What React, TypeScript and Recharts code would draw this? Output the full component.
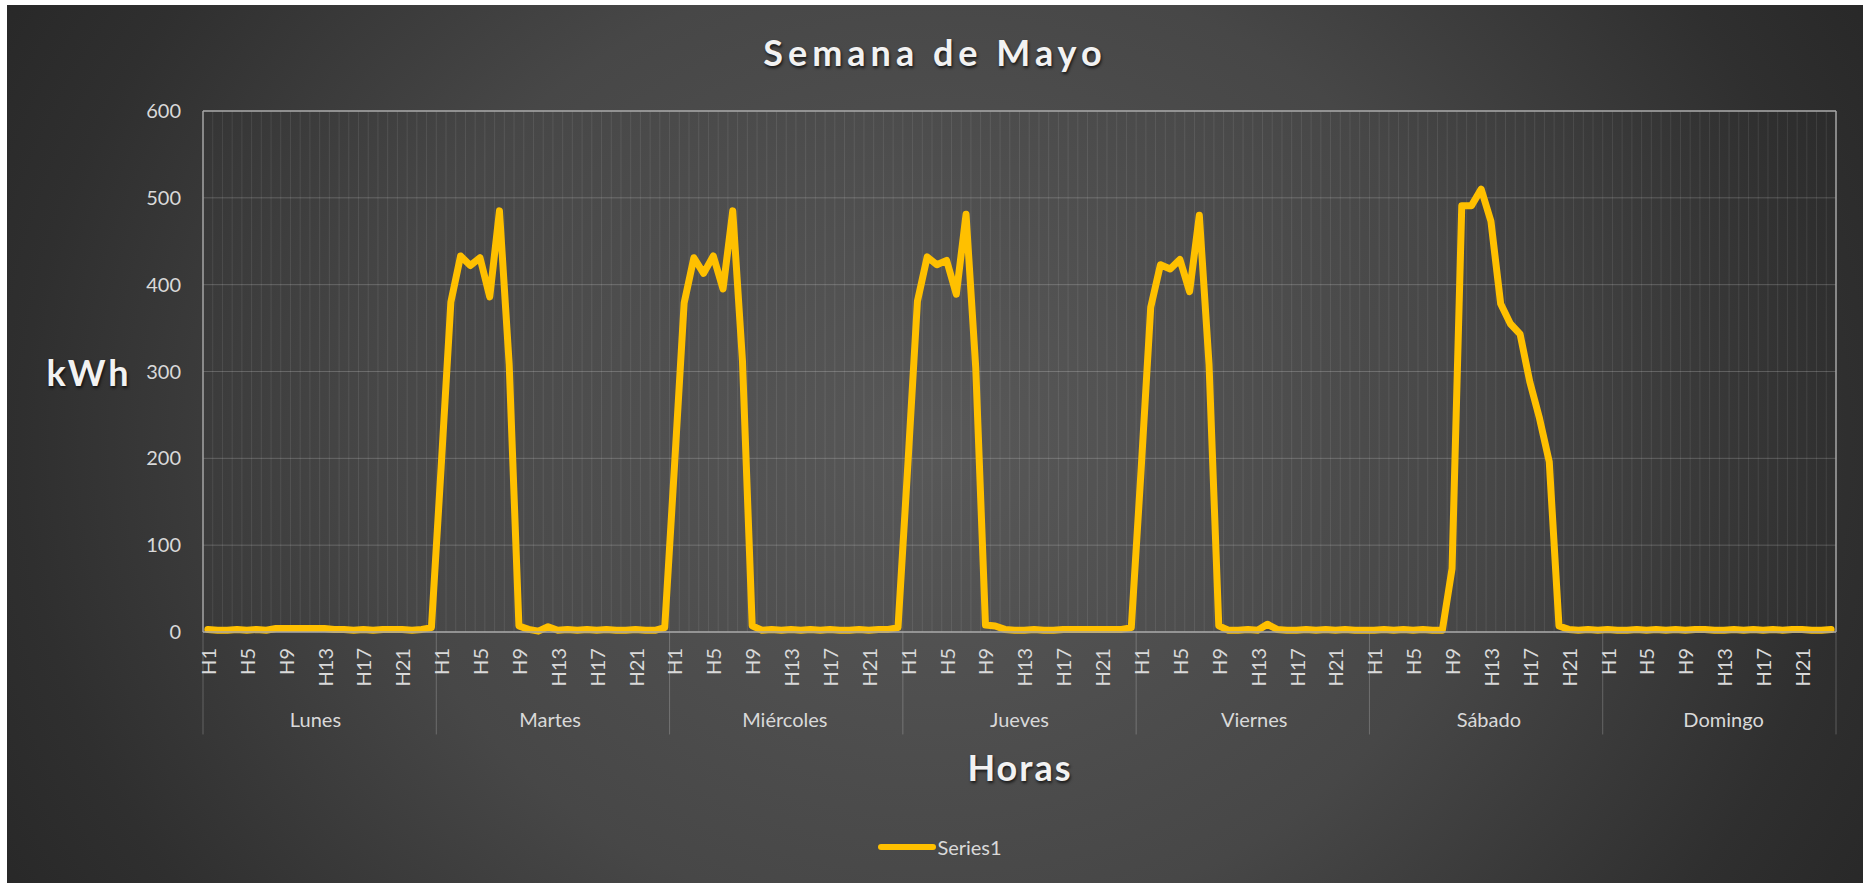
import React from 'react';
import { LineChart, Line, XAxis, YAxis, CartesianGrid, ReferenceLine, Legend } from 'recharts';

const days = ['Lunes', 'Martes', 'Miércoles', 'Jueves', 'Viernes', 'Sábado', 'Domingo'];
const hours = Array.from({ length: 24 }, (_, i) => 'H' + (i + 1));
const hourTickLabels = ['H1', 'H5', 'H9', 'H13', 'H17', 'H21'];
const yTicks = [0, 100, 200, 300, 400, 500, 600];

const lunes = [3, 2, 2, 3, 2, 3, 2, 4, 4, 4, 4, 4, 4, 3, 3, 2, 3, 2, 3, 3, 3, 2, 3, 5];
const martes = [190, 380, 433, 422, 431, 386, 485, 308, 7, 3, 1, 6, 2, 3, 2, 3, 2, 3, 2, 2, 3, 2, 2, 5];
const miercoles = [190, 379, 431, 413, 433, 395, 485, 312, 7, 2, 3, 2, 3, 2, 3, 2, 3, 2, 2, 3, 2, 3, 3, 5];
const jueves = [190, 381, 432, 423, 428, 389, 481, 304, 8, 7, 3, 2, 2, 3, 2, 2, 3, 3, 3, 3, 3, 3, 3, 5];
const viernes = [185, 374, 423, 418, 429, 392, 480, 308, 7, 2, 2, 3, 2, 9, 3, 2, 2, 3, 2, 3, 2, 3, 2, 2];
const sabado = [2, 3, 2, 3, 2, 3, 2, 2, 73, 491, 491, 510, 473, 378, 355, 343, 288, 246, 196, 7, 3, 2, 3, 2];
const domingo = [3, 2, 2, 3, 2, 3, 2, 3, 2, 3, 3, 2, 2, 3, 2, 3, 2, 3, 2, 3, 3, 2, 2, 3];

const series = [lunes, martes, miercoles, jueves, viernes, sabado, domingo];
const data = series.flatMap((vals, d) =>
  vals.map((v, h) => ({ idx: d * 24 + h, day: days[d], hour: hours[h], value: v }))
);
const N = data.length;
const hourTickPos = days.flatMap((_, d) => hourTickLabels.map((l) => d * 24 + hours.indexOf(l)));
const dayCenters = days.map((_, d) => d * 24 + 11.5);
const dayBounds = Array.from({ length: days.length + 1 }, (_, d) => d * 24 - 0.5);
const minorBounds = Array.from({ length: N - 1 }, (_, i) => i + 0.5);

const FONT = 'Lato, "Open Sans", sans-serif';
const TXT = '#d9d9d9';
const BORDER = '#a6a6a6';

const HourTick = (props: any) => {
  const { x, y, payload } = props;
  return (
    <text
      x={x}
      y={y}
      transform={`rotate(-90 ${x} ${y})`}
      textAnchor="end"
      dominantBaseline="central"
      fill={TXT}
      fontSize={20}
      fontFamily={FONT}
    >
      {hours[payload.value % 24]}
    </text>
  );
};

const LegendContent = (props: any) => {
  const items = props.payload || [];
  return (
    <div style={{ display: 'flex', justifyContent: 'center', alignItems: 'center', height: 30, paddingLeft: 10 }}>
      {items.map((it: any) => (
        <div key={it.value} style={{ display: 'flex', alignItems: 'center' }}>
          <span style={{ display: 'inline-block', width: 58, height: 6, borderRadius: 3, background: it.color }} />
          <span style={{ color: TXT, fontFamily: FONT, fontSize: 20, marginLeft: 1 }}>{it.value}</span>
        </div>
      ))}
    </div>
  );
};

const titleShadow = '1px 2px 3px rgba(0,0,0,0.7)';

export default function App() {
  return (
    <div
      style={{
        position: 'absolute',
        left: 7,
        top: 5,
        width: 1856,
        height: 878,
        background:
          'radial-gradient(ellipse 60% 110% at 50% 50%, #585858 0%, #474747 50%, #2f2f2f 82%, #262626 100%)',
        overflow: 'hidden',
      }}
    >
      <LineChart width={1856} height={878} data={data} margin={{ top: 106, right: 27, left: 0, bottom: 21 }}>
        <CartesianGrid xAxisId="a" vertical={false} stroke="rgba(255,255,255,0.2)" />
        {minorBounds.map((b) => (
          <ReferenceLine key={'m' + b} xAxisId="a" x={b} stroke="rgba(255,255,255,0.09)" strokeWidth={1} />
        ))}
        <ReferenceLine xAxisId="a" y={600} stroke={BORDER} strokeWidth={1.5} />
        <ReferenceLine xAxisId="a" x={N - 0.5} stroke={BORDER} strokeWidth={1.5} />
        {dayBounds.map((b) => (
          <ReferenceLine
            key={'d' + b}
            xAxisId="a"
            ifOverflow="visible"
            segment={[
              { x: b, y: 0 },
              { x: b, y: -118 },
            ]}
            stroke="rgba(255,255,255,0.22)"
            strokeWidth={1}
          />
        ))}
        <XAxis
          xAxisId="b"
          type="number"
          domain={[-0.5, N - 0.5]}
          allowDataOverflow
          ticks={dayCenters}
          interval={0}
          tickFormatter={(v: number) => days[Math.round((v - 11.5) / 24)]}
          tickSize={0}
          tickMargin={9}
          tickLine={false}
          axisLine={false}
          height={128}
          tick={{ fill: TXT, fontSize: 20, fontFamily: FONT }}
        />
        <XAxis
          xAxisId="a"
          dataKey="idx"
          type="number"
          domain={[-0.5, N - 0.5]}
          allowDataOverflow
          ticks={hourTickPos}
          interval={0}
          tickSize={0}
          tickMargin={16}
          tickLine={false}
          axisLine={{ stroke: BORDER, strokeWidth: 1.5 }}
          height={72}
          tick={<HourTick />}
        />
        <YAxis
          domain={[0, 600]}
          ticks={yTicks}
          interval={0}
          width={196}
          tickSize={0}
          tickMargin={22}
          tickLine={false}
          axisLine={{ stroke: BORDER, strokeWidth: 1.5 }}
          tick={{ fill: TXT, fontSize: 20, fontFamily: FONT }}
        />
        <Line
          xAxisId="a"
          type="linear"
          dataKey="value"
          name="Series1"
          stroke="#FFC000"
          strokeWidth={7}
          strokeLinejoin="round"
          strokeLinecap="round"
          dot={false}
          activeDot={false}
          isAnimationActive={false}
        />
        <Legend
          verticalAlign="bottom"
          height={30}
          content={<LegendContent />}
          wrapperStyle={{ left: 0, width: 1856 }}
        />
      </LineChart>
      <div
        style={{
          position: 'absolute',
          left: 0,
          top: 29,
          width: 1856,
          textAlign: 'center',
          fontFamily: FONT,
          fontWeight: 700,
          fontSize: 36,
          lineHeight: '36px',
          letterSpacing: 5,
          color: '#f2f2f2',
          textShadow: titleShadow,
        }}
      >
        Semana de Mayo
      </div>
      <div
        style={{
          position: 'absolute',
          left: 2,
          top: 349,
          width: 160,
          textAlign: 'center',
          fontFamily: FONT,
          fontWeight: 700,
          fontSize: 36,
          lineHeight: '36px',
          letterSpacing: 3,
          color: '#f2f2f2',
          textShadow: titleShadow,
        }}
      >
        kWh
      </div>
      <div
        style={{
          position: 'absolute',
          left: 813,
          top: 744,
          width: 400,
          textAlign: 'center',
          fontFamily: FONT,
          fontWeight: 700,
          fontSize: 36,
          lineHeight: '36px',
          letterSpacing: 2,
          color: '#f2f2f2',
          textShadow: titleShadow,
        }}
      >
        Horas
      </div>
    </div>
  );
}
